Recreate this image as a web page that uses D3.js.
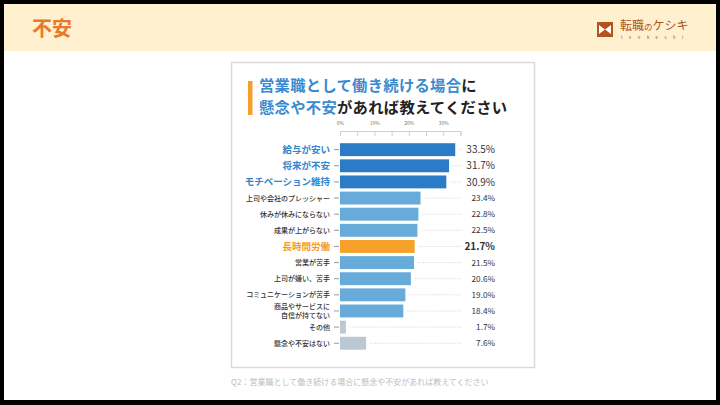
<!DOCTYPE html>
<html><head><meta charset="utf-8">
<script src="https://cdn.jsdelivr.net/npm/d3@7/dist/d3.min.js"></script>
<style>
html,body{margin:0;padding:0;background:#000;}
svg{display:block;}
text{font-family:"Noto Sans CJK JP","Noto Sans",sans-serif;}
</style></head>
<body>
<svg id="c" width="720" height="405"></svg>
<script>
const categories = ["給与が安い","将来が不安","モチベーション維持","上司や会社のプレッシャー","休みが休みにならない","成果が上がらない","長時間労働","営業が苦手","上司が嫌い、苦手","コミュニケーションが苦手","商品やサービスに\n自信が持てない","その他","懸念や不安はない"];
const values = [33.5,31.7,30.9,23.4,22.8,22.5,21.7,21.5,20.6,19.0,18.4,1.7,7.6];
const groups = ["top","top","top","mid","mid","mid","focus","mid","mid","mid","mid","none","none"];
const axisTicks = [0,5,10,15,20,25,30,35];
const axisLabels = ["0%","","10%","","20%","","30%",""];

const svg = d3.select("#c");
// page background
svg.append("rect").attr("x",4).attr("y",4).attr("width",712).attr("height",396).attr("fill","#fff");
svg.append("rect").attr("x",4).attr("y",4).attr("width",712).attr("height",47).attr("fill","#FFF1CF");
svg.append("text").attr("x",32).attr("y",36).attr("font-size",20).attr("font-weight",700).attr("fill","#E8782A").text("不安");

// logo
const lg = svg.append("g").attr("transform","translate(597,22)");
lg.append("rect").attr("width",16).attr("height",15).attr("fill","#B4531D");
lg.append("path").attr("d","M2,3 L8,7.5 L14,3 L14,12 L8,7.5 L2,12 Z").attr("fill","#fff");
svg.append("text").attr("x",620).attr("y",30).attr("font-size",12).attr("fill","#A9531F")
  .html('転職<tspan font-size="8.5">の</tspan>ケシキ');
svg.append("text").attr("x",621).attr("y",38.5).attr("font-size",4.2).attr("fill","#A9531F")
  .attr("letter-spacing",6.5).text("tenkeshi");

// card
svg.append("rect").attr("x",231.5).attr("y",62.5).attr("width",303).attr("height",305)
  .attr("fill","#fff").attr("stroke","#DADADA").attr("stroke-width",1.5);
svg.append("rect").attr("x",248).attr("y",81).attr("width",4.5).attr("height",34).attr("fill","#F4A02B");
svg.append("text").attr("x",259).attr("y",91).attr("font-size",15.3).attr("font-weight",700)
  .attr("letter-spacing",0.3)
  .html('<tspan fill="#3A8AD0">営業職として働き続ける場合</tspan><tspan fill="#222">に</tspan>');
svg.append("text").attr("x",259).attr("y",113).attr("font-size",15.3).attr("font-weight",700)
  .attr("letter-spacing",0.3)
  .html('<tspan fill="#3A8AD0">懸念や不安</tspan><tspan fill="#222">があれば教えてください</tspan>');

// scales
const x = d3.scaleLinear().domain([0,35]).range([340,460.4]);
const y = d3.scaleBand().domain(categories).range([141.6,351.3]).paddingInner(0.2).paddingOuter(0.1);

const color = {top:"#2B7BC7", mid:"#66ABD9", focus:"#F5A12A", none:"#BAC8D3"};

// top axis
const ax = svg.append("g").attr("transform","translate(0,131)")
  .call(d3.axisBottom(x).tickValues(axisTicks).tickSize(5).tickFormat((d,i)=>axisLabels[i]));
ax.select(".domain").attr("stroke","#CFCFCF");
ax.selectAll(".tick line").attr("stroke","#CFCFCF");
ax.selectAll(".tick text").attr("y",-6).attr("dy",0).attr("font-size",5).attr("fill","#777")
  .attr("font-family",'"Noto Sans","Noto Sans CJK JP",sans-serif');

// left axis ticks
const ay = svg.append("g").attr("transform","translate(339,0)")
  .call(d3.axisLeft(y).tickSize(5).tickFormat(""));
ay.select(".domain").remove();
ay.selectAll(".tick line").attr("stroke","#999");

const rows = categories.map((c,i)=>({c, v:values[i], g:groups[i]}));

// leader lines
svg.append("g").selectAll("line").data(rows).join("line")
  .attr("x1",d=>x(d.v)+4).attr("x2",x(35)+1.5)
  .attr("y1",d=>y(d.c)+y.bandwidth()/2).attr("y2",d=>y(d.c)+y.bandwidth()/2)
  .attr("stroke","#C8C8C8").attr("stroke-width",0.8).attr("stroke-dasharray","1,1.5");

// bars
svg.append("g").selectAll("rect").data(rows).join("rect")
  .attr("x",x(0)).attr("y",d=>y(d.c)).attr("width",d=>x(d.v)-x(0)).attr("height",y.bandwidth())
  .attr("fill",d=>color[d.g]);

// category labels
const lab = svg.append("g").selectAll("text").data(rows).join("text")
  .attr("text-anchor","end")
  .attr("font-size",d=>d.g==="top"||d.g==="focus"?9.5:7)
  .attr("font-weight",d=>d.g==="top"||d.g==="focus"?700:500)
  .attr("fill",d=>d.g==="top"?"#2F86CF":d.g==="focus"?"#F29A28":"#333");
lab.each(function(d){
  const parts = d.c.split("\n");
  const cy = y(d.c)+y.bandwidth()/2;
  const t = d3.select(this);
  const lh = 9;
  parts.forEach((p,k)=>{
    t.append("tspan").attr("x",330)
     .attr("y",cy + (k-(parts.length-1)/2)*lh)
     .attr("dy","0.35em").text(p);
  });
});

// value labels
svg.append("g").selectAll("text").data(rows).join("text")
  .attr("x",495).attr("y",d=>y(d.c)+y.bandwidth()/2).attr("dy","0.36em")
  .attr("text-anchor","end")
  .attr("font-family",'"Noto Sans","Noto Sans CJK JP",sans-serif')
  .attr("font-size",d=>d.g==="top"||d.g==="focus"?10:8.2)
  .attr("font-weight",d=>d.g==="focus"?700:400)
  .attr("fill","#333")
  .text(d=>d.v.toFixed(1)+"%");

// caption
svg.append("text").attr("x",231).attr("y",384.5).attr("font-size",8).attr("fill","#BDBDBD")
  .text("Q2：営業職として働き続ける場合に懸念や不安があれば教えてください");
</script>
</body></html>
